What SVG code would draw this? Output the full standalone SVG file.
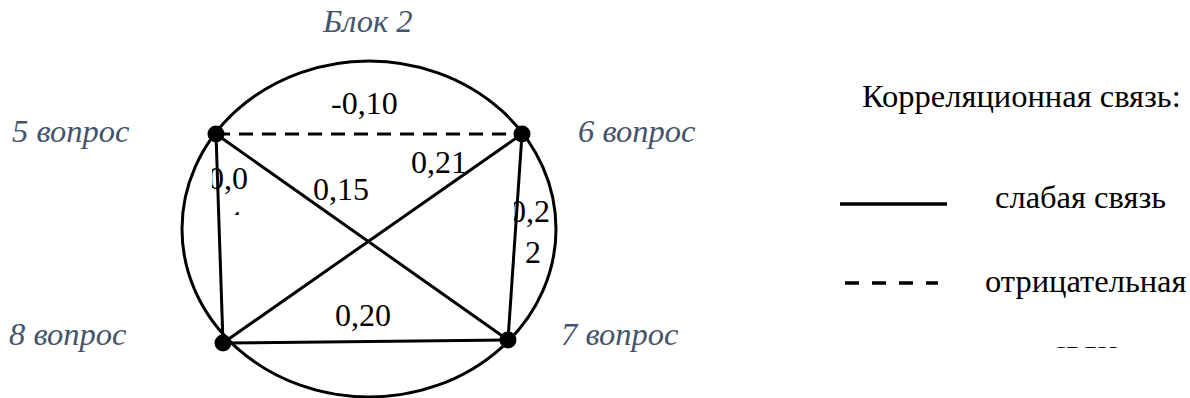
<svg xmlns="http://www.w3.org/2000/svg" width="1190" height="398" viewBox="0 0 1190 398">
<style>
.edge{stroke:#000;stroke-width:3;fill:none}
.dash{stroke-dasharray:14 9}
.dot{fill:#000}
.num{font-family:'Liberation Serif','Times New Roman',serif;font-size:32px;fill:#000}
.lbl{font-family:'Liberation Serif','Times New Roman',serif;font-size:32.5px;font-style:italic;fill:#44546A}
.leg{font-family:'Liberation Serif','Times New Roman',serif;font-size:32.5px;fill:#000}
</style>
<defs>
<clipPath id="c00"><rect x="212" y="150" width="60" height="50"/></clipPath>
<clipPath id="c4"><rect x="220" y="209" width="30" height="6"/></clipPath>
<clipPath id="c02"><rect x="514" y="185" width="60" height="45"/></clipPath>
<clipPath id="csv"><rect x="1040" y="345.5" width="100" height="2.5"/></clipPath>
</defs>
<rect width="1190" height="398" fill="#fff"/>
<g id="block">
<ellipse class="edge" cx="369" cy="229" rx="187" ry="168"/>
<text class="lbl" x="323" y="32">Блок 2</text>
</g>
<g id="connectors">
<line class="edge dash" x1="216" y1="134" x2="522" y2="134"/>
<line class="edge" x1="216" y1="134" x2="223" y2="343"/>
<line class="edge" x1="216" y1="134" x2="508" y2="340"/>
<line class="edge" x1="522" y1="134" x2="223" y2="343"/>
<line class="edge" x1="522" y1="134" x2="508" y2="340"/>
<line class="edge" x1="223" y1="343" x2="508" y2="340"/>
<text class="num" x="331" y="114">-0,10</text>
<text class="num" x="313" y="200">0,15</text>
<text class="num" x="411" y="173">0,21</text>
<text class="num" x="335" y="326">0,20</text>
<text class="num" x="208" y="189" clip-path="url(#c00)">0,0</text>
<text class="num" x="226" y="233" clip-path="url(#c4)">4</text>
<text class="num" x="510" y="222" clip-path="url(#c02)">0,2</text>
<text class="num" x="525" y="263">2</text>
</g>
<g id="node5">
<circle class="dot" cx="216" cy="134" r="8.5"/>
<text class="lbl" x="12" y="142">5 вопрос</text>
</g>
<g id="node6">
<circle class="dot" cx="522" cy="134" r="8.5"/>
<text class="lbl" x="578" y="142">6 вопрос</text>
</g>
<g id="node8">
<circle class="dot" cx="223" cy="343" r="8.5"/>
<text class="lbl" x="9" y="345">8 вопрос</text>
</g>
<g id="node7">
<circle class="dot" cx="508" cy="340" r="8.5"/>
<text class="lbl" x="561" y="345">7 вопрос</text>
</g>
<g id="legend">
<text class="leg" x="862" y="107">Корреляционная связь:</text>
<line x1="840" y1="204" x2="947" y2="204" stroke="#000" stroke-width="3.5"/>
<text class="leg" x="995" y="208">слабая связь</text>
<line x1="845" y1="283" x2="938" y2="283" stroke="#000" stroke-width="3.5" stroke-dasharray="14 13"/>
<text class="leg" x="985" y="292">отрицательная</text>
<text class="leg" x="1052" y="362" clip-path="url(#csv)">связь</text>
</g>
</svg>
